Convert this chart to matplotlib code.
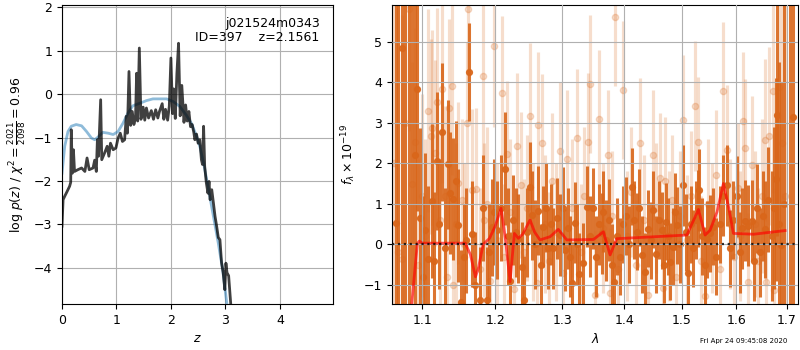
import matplotlib
matplotlib.use("Agg")
import matplotlib.pyplot as plt
from matplotlib.ticker import NullLocator

# --- p(z) panel -------------------------------------------------------------
pz_z = [0.00, 0.02, 0.05, 0.09, 0.14, 0.16, 0.17, 0.19, 0.21, 0.23, 0.29, 0.36,
        0.42, 0.46, 0.50, 0.57, 0.60, 0.63, 0.65, 0.67, 0.71, 0.73, 0.78, 0.83,
        0.86, 0.89, 0.94, 0.99, 1.03, 1.07, 1.11, 1.15, 1.18, 1.20, 1.23, 1.26,
        1.29, 1.32, 1.35, 1.37, 1.39, 1.42, 1.45, 1.49, 1.52, 1.55, 1.59, 1.64,
        1.68, 1.72, 1.76, 1.79, 1.84, 1.87, 1.90, 1.94, 1.97, 2.00, 2.03, 2.05,
        2.08, 2.11, 2.14, 2.17, 2.20, 2.24, 2.27, 2.30, 2.33, 2.36, 2.39, 2.42,
        2.44, 2.47, 2.50, 2.53, 2.56, 2.58, 2.60, 2.62, 2.65, 2.68, 2.70, 2.72,
        2.75, 2.78, 2.81, 2.84, 2.87, 2.90, 2.93, 2.96, 2.99, 3.01, 3.03, 3.06, 3.10]
pz_log = [-3.04, -2.43, -2.35, -2.25, -2.12, -2.03, -0.82, -1.82, -1.28, -1.78, -1.74, -1.70,
          -1.78, -1.47, -1.74, -1.70, -1.52, -1.78, -1.05, -1.43, -0.13, -1.51, -1.36, -1.20,
          -1.43, -1.13, -1.28, -1.24, -1.01, -0.90, -1.09, -1.05, -0.51, -0.90, 0.52, -0.72,
          -0.40, -0.70, -0.55, 0.48, -0.62, 1.06, -0.58, -0.30, -0.60, -0.32, -0.55, -0.38,
          -0.58, -0.36, -0.55, -0.40, -0.22, -0.58, -0.35, -0.60, -0.28, 0.83, -0.45, 0.12,
          -0.56, 0.48, 1.17, -0.50, 0.20, -0.65, -0.25, -0.62, -0.40, -0.75, -0.70, -0.88,
          -1.05, -0.92, -1.13, -1.05, -1.51, -1.62, -0.74, -1.66, -2.04, -2.28, -2.01, -2.43,
          -2.20, -2.50, -2.81, -3.04, -3.30, -3.35, -3.88, -4.11, -4.50, -3.89, -4.11, -4.18, -4.85]

prior_z = [0.00, 0.05, 0.11, 0.17, 0.26, 0.36, 0.45, 0.54, 0.60, 0.66, 0.75, 0.85,
           0.94, 1.03, 1.12, 1.21, 1.30, 1.43, 1.55, 1.67, 1.79, 1.92, 2.04, 2.16,
           2.28, 2.38, 2.47, 2.53, 2.60, 2.68, 2.77, 2.87, 2.95, 3.01, 3.04]
prior_log = [-1.82, -1.20, -0.86, -0.74, -0.70, -0.73, -0.86, -1.01, -1.05, -0.99, -0.88, -0.90,
             -0.93, -0.86, -0.67, -0.44, -0.27, -0.21, -0.15, -0.11, -0.11, -0.11, -0.17, -0.28,
             -0.48, -0.68, -0.97, -1.20, -1.59, -2.12, -2.74, -3.43, -4.04, -4.65, -4.95]

# --- spectrum panel ---------------------------------------------------------
bin_wave = [1.0656, 1.0690, 1.0733, 1.0780, 1.0825, 1.0865, 1.0904, 1.0935, 1.0970, 1.1003,
            1.1035, 1.1080, 1.1124, 1.1158, 1.1190, 1.1225, 1.1265, 1.1300, 1.1337, 1.1370,
            1.1414, 1.1450, 1.1482, 1.1525, 1.1560, 1.1595, 1.1630, 1.1676, 1.1720, 1.1785,
            1.1832, 1.1880, 1.1915, 1.1951, 1.1990, 1.2030, 1.2080, 1.2142, 1.2180, 1.2215,
            1.2260, 1.2300, 1.2337, 1.2387, 1.2425, 1.2470, 1.2510, 1.2535, 1.2585, 1.2635,
            1.2670, 1.2711, 1.2750, 1.2787, 1.2825, 1.2865, 1.2916, 1.2967, 1.3005, 1.3045,
            1.3085, 1.3123, 1.3150, 1.3201, 1.3235, 1.3269, 1.3333, 1.3387, 1.3440, 1.3494,
            1.3540, 1.3585, 1.3628, 1.3655, 1.3700, 1.3745, 1.3790, 1.3832, 1.3880, 1.3930,
            1.3980, 1.4030, 1.4080, 1.4127, 1.4170, 1.4211, 1.4255, 1.4296, 1.4353, 1.4410,
            1.4455, 1.4496, 1.4542, 1.4590, 1.4642, 1.4680, 1.4717, 1.4750, 1.4788, 1.4846,
            1.4880, 1.4917, 1.4970, 1.5024, 1.5070, 1.5114, 1.5160, 1.5206, 1.5250, 1.5296,
            1.5315, 1.5370, 1.5420, 1.5451, 1.5511, 1.5573, 1.5630, 1.5698, 1.5760, 1.5824,
            1.5886, 1.5950, 1.6014, 1.6077, 1.6120, 1.6174, 1.6238, 1.6304, 1.6350, 1.6401,
            1.6466, 1.6520, 1.6565, 1.6631, 1.6700, 1.6740, 1.6784, 1.6810, 1.6845, 1.6878,
            1.6950, 1.7067, 1.7123]
bin_flux = [0.53, -2.5, 4.84, 6.5, -2.0, 7.0, 2.20, 3.83, 0.66, -0.80,
            0.35, -0.37, 1.07, -0.41, 2.06, 0.51, 2.78, -0.10, 1.97, 1.27,
            1.12, 1.55, 0.47, -1.43, -0.30, 0.10, 4.25, 0.26, -1.00, -1.36,
            0.90, -1.36, -0.20, 0.42, 0.80, 0.35, 0.90, 1.87, 0.20, -0.90,
            0.60, 0.30, 0.14, -0.55, -1.38, 0.30, 1.42, 0.72, 0.00, 0.83,
            -0.50, 0.43, 0.90, -0.10, 0.50, -0.10, 0.64, 0.23, 0.90, -0.14,
            0.40, -0.30, -0.94, 0.53, 0.00, -0.72, -0.47, 0.93, 0.20, 0.89,
            -0.30, 0.50, 0.27, 0.80, 0.10, 0.60, -0.50, -0.92, 0.20, -0.30,
            0.50, 0.70, 0.00, 1.42, 0.60, 0.31, 0.90, -0.26, -0.67, 0.39,
            0.10, 0.85, -0.24, 0.60, 0.35, -0.50, 0.56, 0.20, -0.43, -0.06,
            0.80, 0.47, 0.00, 1.46, 0.30, -0.71, 0.50, -0.10, 0.60, 0.89,
            1.34, 0.20, -0.52, 0.13, 0.27, 0.43, -0.30, 0.50, 1.20, 1.46,
            -0.10, 0.60, 1.18, -0.20, 0.40, 0.58, 0.46, 0.58, -0.40, 0.89,
            -0.20, 0.70, 0.37, 1.10, 0.20, 0.90, 1.60, 3.20, 0.50, -0.01,
            1.00, 7.00, 3.13]
bin_err = [10, 10, 10, 10, 8, 8, 4.0, 3.0, 2.2, 2.0,
           1.9, 1.8, 1.9, 1.7, 1.7, 1.6, 1.7, 1.5, 1.6, 1.5,
           1.5, 1.5, 1.4, 1.3, 1.3, 1.3, 1.2, 1.3, 1.3, 1.3,
           1.3, 1.3, 1.2, 1.2, 1.3, 1.2, 1.3, 1.4, 1.2, 1.2,
           1.1, 1.1, 1.1, 1.1, 1.1, 1.1, 1.1, 1.1, 1.1, 1.1,
           1.0, 1.0, 1.1, 1.0, 1.0, 1.0, 1.0, 1.0, 1.0, 1.0,
           1.0, 1.0, 1.0, 1.0, 1.0, 1.0, 1.0, 1.0, 1.0, 1.0,
           1.0, 1.0, 1.0, 1.0, 1.0, 1.0, 1.0, 1.0, 0.95, 0.95,
           0.95, 0.95, 0.95, 0.95, 0.95, 0.95, 0.95, 0.95, 0.95, 0.95,
           0.95, 0.95, 0.95, 0.95, 0.95, 0.95, 0.95, 0.95, 0.95, 0.95,
           0.95, 0.95, 0.95, 1.0, 0.95, 0.95, 0.95, 0.95, 0.95, 0.95,
           1.0, 0.95, 0.95, 0.95, 0.95, 0.95, 0.95, 0.95, 1.0, 1.0,
           0.95, 0.95, 1.0, 1.0, 1.0, 1.0, 1.0, 1.0, 1.0, 1.1,
           1.1, 1.1, 1.2, 1.3, 1.6, 2.0, 2.5, 3.0, 4.0, 4.0,
           6, 9, 10]

raw_wave = [1.0640, 1.0680, 1.0733, 1.0780, 1.0823, 1.0860, 1.0904, 1.0950, 1.0990, 1.1030,
            1.1070, 1.1114, 1.1131, 1.1168, 1.1199, 1.1230, 1.1265, 1.1300, 1.1330, 1.1360,
            1.1400, 1.1414, 1.1450, 1.1482, 1.1528, 1.1565, 1.1604, 1.1617, 1.1676, 1.1731,
            1.1780, 1.1831, 1.1835, 1.1880, 1.1930, 1.1982, 1.2030, 1.2094, 1.2130, 1.2166,
            1.2220, 1.2270, 1.2313, 1.2377, 1.2420, 1.2470, 1.2510, 1.2560, 1.2611, 1.2635,
            1.2687, 1.2740, 1.2790, 1.2839, 1.2900, 1.2967, 1.3020, 1.3081, 1.3150, 1.3229,
            1.3290, 1.3350, 1.3413, 1.3440, 1.3522, 1.3590, 1.3650, 1.3737, 1.3760, 1.3800,
            1.3847, 1.3900, 1.3985, 1.4050, 1.4120, 1.4190, 1.4267, 1.4330, 1.4410, 1.4484,
            1.4540, 1.4612, 1.4671, 1.4700, 1.4760, 1.4830, 1.4900, 1.4960, 1.5024, 1.5090,
            1.5160, 1.5237, 1.5297, 1.5350, 1.5420, 1.5480, 1.5550, 1.5620, 1.5690, 1.5760,
            1.5824, 1.5890, 1.5960, 1.6030, 1.6080, 1.6140, 1.6174, 1.6238, 1.6304, 1.6370,
            1.6430, 1.6500, 1.6565, 1.6580, 1.6651, 1.6731, 1.6740, 1.6833, 1.6900, 1.6970]
raw_flux = [2.0, -0.2, -0.35, 3.0, 5.80, 1.5, 2.53, -0.5, 1.2, 0.2,
            3.29, 2.66, 2.88, 2.25, 3.52, 0.6, 3.82, 1.2, -0.8, 3.36,
            3.90, -1.00, 0.5, 1.52, 1.09, 0.0, 3.00, 5.80, 1.34, 1.36,
            -0.6, 4.14, 0.60, 1.0, -0.9, 4.89, 0.1, 3.72, -0.3, 2.23,
            0.8, -1.1, 2.43, 1.46, -0.2, 0.9, 3.17, 0.3, -0.96, 2.94,
            2.49, 0.5, -0.4, 1.55, 0.3, 2.29, -0.7, 2.10, 0.9, 2.63,
            -0.2, 1.2, 2.53, 3.95, -1.25, 3.08, 0.4, 2.20, -1.20, 0.7,
            5.60, -0.6, 3.81, 0.2, 1.3, -0.5, 2.49, 0.6, -1.25, 2.20,
            0.9, 1.63, -1.08, 1.55, 0.2, 1.1, -0.8, 0.7, 3.07, 0.1,
            1.2, 3.41, 2.53, -0.4, -1.27, 1.0, 0.4, 1.7, -0.6, 3.79,
            2.33, 0.5, -0.3, 1.4, 0.2, 3.03, 2.37, -0.92, 1.96, 0.5,
            -0.4, 1.2, 2.57, -0.92, 2.67, 3.77, -1.12, 3.89, 2.5, 1.2]
raw_err = [8, 8, 6, 5, 3, 3, 2.8, 2.6, 2.5, 2.4,
           2.5, 2.4, 2.4, 2.3, 2.3, 2.2, 2.3, 2.2, 2.1, 2.2,
           2.2, 2.0, 2.0, 2.0, 2.0, 2.0, 2.0, 1.8, 2.0, 2.0,
           2.0, 2.0, 1.9, 1.9, 1.9, 2.0, 1.9, 1.9, 1.8, 1.8,
           1.8, 1.8, 1.8, 1.8, 1.8, 1.8, 1.8, 1.7, 1.7, 1.8,
           1.7, 1.7, 1.7, 1.7, 1.7, 1.7, 1.7, 1.7, 1.7, 1.7,
           1.7, 1.7, 1.7, 1.7, 1.6, 1.7, 1.6, 1.6, 1.6, 1.6,
           1.7, 1.6, 1.7, 1.6, 1.6, 1.6, 1.6, 1.6, 1.6, 1.6,
           1.6, 1.6, 1.6, 1.6, 1.6, 1.6, 1.6, 1.6, 1.6, 1.6,
           1.6, 1.6, 1.6, 1.6, 1.6, 1.6, 1.6, 1.6, 1.6, 1.7,
           1.6, 1.6, 1.6, 1.6, 1.6, 1.7, 1.7, 1.7, 1.7, 1.8,
           1.8, 1.9, 2.0, 2.0, 2.2, 2.5, 2.5, 3.5, 5, 6]

model_wave = [1.0820, 1.0862, 1.0935, 1.0960, 1.1000, 1.1579, 1.1650, 1.1721, 1.1760, 1.1829,
              1.1920, 1.2000, 1.2085, 1.2150, 1.2215, 1.2278, 1.2337, 1.2400, 1.2510, 1.2580,
              1.2660, 1.2814, 1.2940, 1.3071, 1.3494, 1.3655, 1.3765, 1.3875, 1.5087, 1.5297,
              1.5419, 1.5511, 1.5640, 1.5760, 1.5860, 1.5949, 1.6335, 1.6965]
model_flux = [-2.6, -1.47, 0.02, 0.08, 0.03, 0.03, -0.25, -0.80, -0.60, 0.00,
              0.15, 0.45, 0.89, 0.10, -0.92, 0.27, 0.15, 0.25, 0.60, 0.30,
              0.11, 0.19, 0.37, 0.11, 0.12, 0.31, -0.26, 0.14, 0.23, 0.86,
              0.23, 0.35, 0.80, 1.50, 0.90, 0.27, 0.25, 0.34]

wave_ticks = [1.1, 1.2, 1.3, 1.4, 1.5, 1.6, 1.7]

title_text = "j021524m0343\nID=397    z=2.1561"
stamp_text = "Fri Apr 24 09:45:08 2020"
spec_color = (0.85, 0.40, 0.10)


def main() -> None:
    plt.rcParams["font.size"] = 9
    fig = plt.figure(figsize=(8.0, 3.5), dpi=100)

    # left: redshift probability
    ax = fig.add_axes([0.0775, 0.1314, 0.339, 0.8543])
    ax.plot(prior_z, prior_log, color=(0.12, 0.47, 0.71), alpha=0.5, lw=2)
    ax.plot(pz_z, pz_log, color="k", alpha=0.75, lw=2)
    ax.set_xlim(0, 4.98)
    ax.set_ylim(-4.83, 2.05)
    ax.set_xticks([0, 1, 2, 3, 4])
    ax.set_xlabel("$z$")
    ax.set_ylabel(r"log $p(z)$ / $\chi^2=\frac{2021}{2098}=0.96$")
    ax.text(0.95, 0.96, title_text, transform=ax.transAxes, ha="right", va="top",
            fontsize=9, linespacing=1.1)
    ax.grid()

    # right: spectrum
    ax2 = fig.add_axes([0.49, 0.1314, 0.5075, 0.8543])
    ax2.errorbar(raw_wave, raw_flux, yerr=raw_err, fmt="o", color=spec_color,
                 alpha=0.22, ms=4.5, elinewidth=2.3, zorder=1)
    ax2.errorbar(bin_wave, bin_flux, yerr=bin_err, fmt="o", color=spec_color,
                 alpha=0.9, ms=4.2, elinewidth=2.2, zorder=2)
    ax2.plot(model_wave, model_flux, color="red", alpha=0.65, lw=2, zorder=4)
    ax2.plot([1.0609, 1.7228], [0, 0], color="k", linestyle=":", lw=1.6, alpha=0.8, zorder=5)
    ax2.set_xscale("log")
    ax2.set_xlim(1.0609, 1.7228)
    ax2.set_ylim(-1.47, 5.9)
    ax2.set_xticks(wave_ticks)
    ax2.set_xticklabels([f"{w:.1f}" for w in wave_ticks])
    ax2.xaxis.set_minor_locator(NullLocator())
    ax2.set_xlabel(r"$\lambda$")
    ax2.set_ylabel(r"$f_\lambda \times 10^{-19}$")
    ax2.set_axisbelow(False)
    ax2.grid(zorder=3)

    fig.text(0.984, 0.025, stamp_text, ha="right", va="center", fontsize=5)
    fig.savefig("out.png", dpi=100)
    plt.close(fig)


if __name__ == "__main__":
    main()
